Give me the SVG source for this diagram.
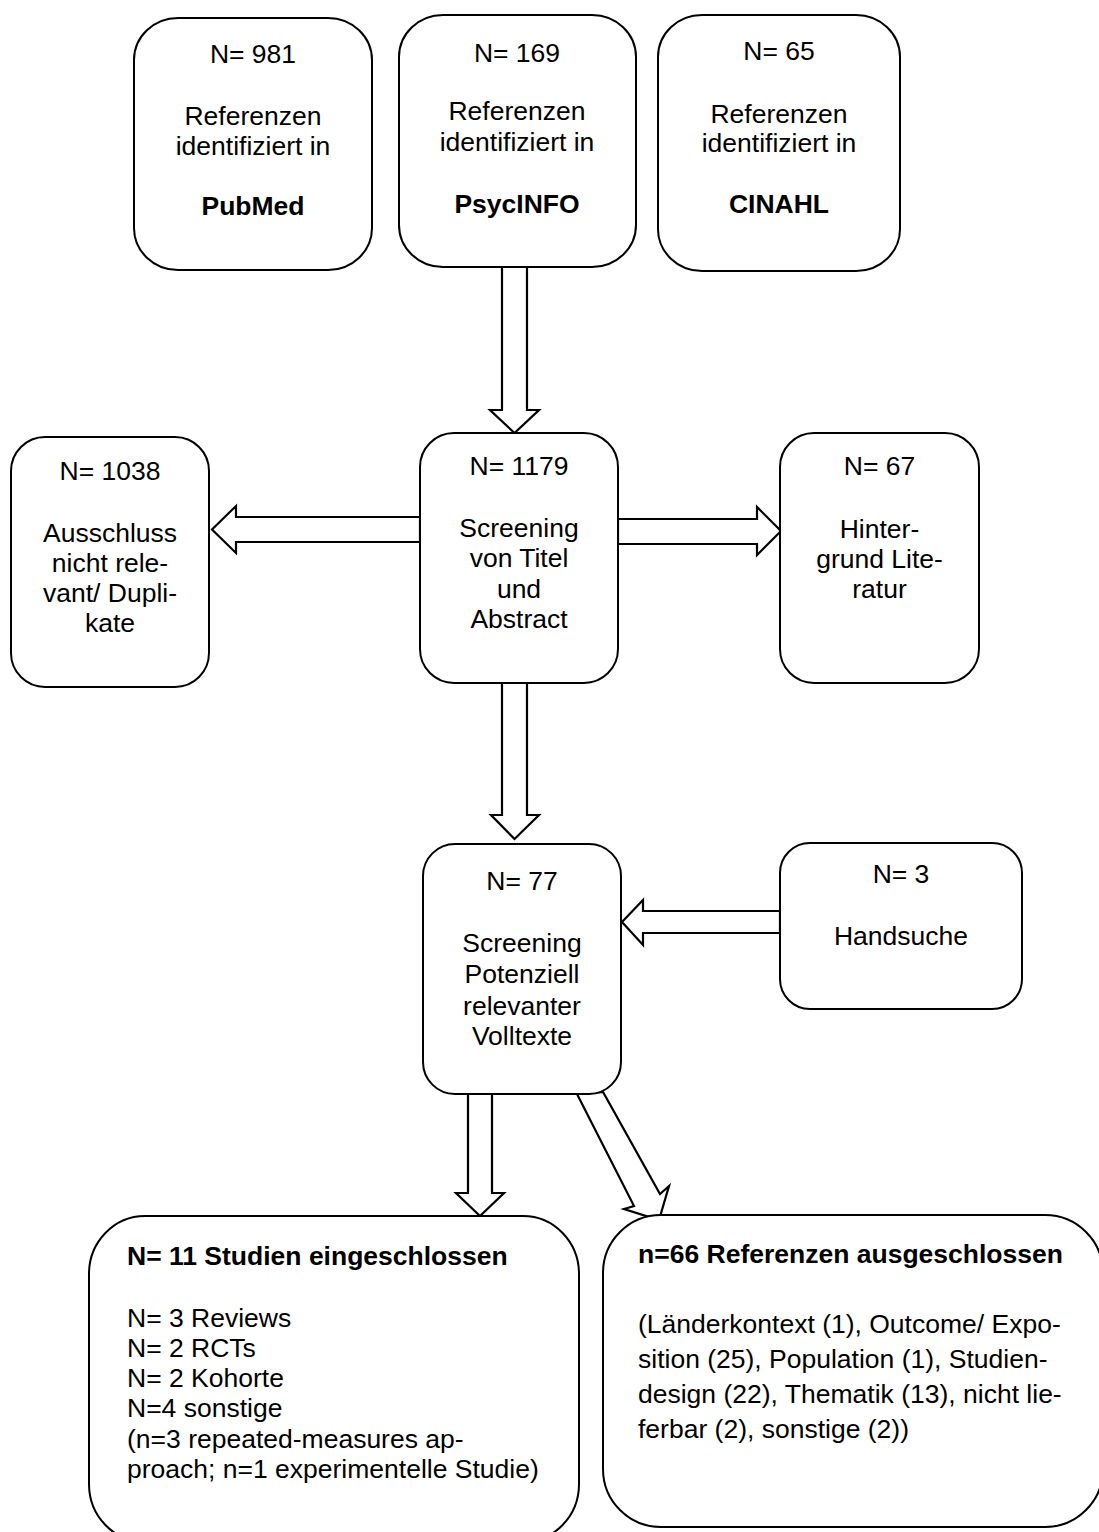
<svg xmlns="http://www.w3.org/2000/svg" width="1099" height="1532" viewBox="0 0 1099 1532">
<style>
.box{fill:#fff;stroke:#000;stroke-width:2}
.arr{fill:#fff;stroke:#000;stroke-width:2.2;stroke-linejoin:miter}
text{font-family:"Liberation Sans",Arial,sans-serif;font-size:26.5px;fill:#000}
.c{text-anchor:middle}
.b{font-weight:bold}
</style>
<rect width="1099" height="1532" fill="#fff"/>
<g id="connectors">
<polygon class="arr" points="502,267 502,410 490,410 514.5,433 539,410 527,410 527,267"/>
<polygon class="arr" points="420,517 236,517 236,506 212,529.5 236,553 236,542 420,542"/>
<polygon class="arr" points="618,519 757,519 757,507 781,531 757,555 757,544 618,544"/>
<polygon class="arr" points="502,683 502,815 491,815 514.5,839 539,815 527,815 527,683"/>
<polygon class="arr" points="780,911 643,911 643,900 622,922 643,945 643,933 780,933"/>
<polygon class="arr" points="468,1094 468,1193 456,1193 480,1216 504,1193 492,1193 492,1094"/>
<polygon class="arr" points="577,1094 634,1206 624,1209 659,1220 669,1186 660,1194 603,1092"/>
</g>
<g id="pubmed">
<rect class="box" x="134" y="18" width="238" height="252" rx="44" ry="42"/>
<text class="c" x="253" y="63">N= 981</text>
<text class="c" x="253" y="125">Referenzen</text>
<text class="c" x="253" y="155">identifiziert in</text>
<text class="c b" x="253" y="215">PubMed</text>
</g>
<g id="psycinfo">
<rect class="box" x="399" y="15" width="237" height="252" rx="44" ry="42"/>
<text class="c" x="517" y="62">N= 169</text>
<text class="c" x="517" y="120">Referenzen</text>
<text class="c" x="517" y="151">identifiziert in</text>
<text class="c b" x="517" y="213">PsycINFO</text>
</g>
<g id="cinahl">
<rect class="box" x="658" y="15" width="242" height="256" rx="44" ry="42"/>
<text class="c" x="779" y="60">N= 65</text>
<text class="c" x="779" y="123">Referenzen</text>
<text class="c" x="779" y="152">identifiziert in</text>
<text class="c b" x="779" y="213">CINAHL</text>
</g>
<g id="ausschluss">
<rect class="box" x="11" y="437" width="198" height="250" rx="34" ry="34"/>
<text class="c" x="110" y="480">N= 1038</text>
<text class="c" x="110" y="542">Ausschluss</text>
<text class="c" x="110" y="572">nicht rele-</text>
<text class="c" x="110" y="602">vant/ Dupli-</text>
<text class="c" x="110" y="632">kate</text>
</g>
<g id="screening1">
<rect class="box" x="420" y="433" width="198" height="250" rx="34" ry="34"/>
<text class="c" x="519" y="475">N= 1179</text>
<text class="c" x="519" y="537">Screening</text>
<text class="c" x="519" y="567">von Titel</text>
<text class="c" x="519" y="598">und</text>
<text class="c" x="519" y="628">Abstract</text>
</g>
<g id="hintergrund">
<rect class="box" x="780" y="433" width="199" height="250" rx="34" ry="34"/>
<text class="c" x="879.5" y="475">N= 67</text>
<text class="c" x="879.5" y="538">Hinter-</text>
<text class="c" x="879.5" y="568">grund Lite-</text>
<text class="c" x="879.5" y="598">ratur</text>
</g>
<g id="screening2">
<rect class="box" x="423" y="844" width="198" height="250" rx="32" ry="32"/>
<text class="c" x="522" y="890">N= 77</text>
<text class="c" x="522" y="952">Screening</text>
<text class="c" x="522" y="983">Potenziell</text>
<text class="c" x="522" y="1015">relevanter</text>
<text class="c" x="522" y="1045">Volltexte</text>
</g>
<g id="handsuche">
<rect class="box" x="780" y="843" width="242" height="166" rx="30" ry="30"/>
<text class="c" x="901" y="883">N= 3</text>
<text class="c" x="901" y="945">Handsuche</text>
</g>
<g id="eingeschlossen">
<rect class="box" x="89" y="1216" width="490" height="326" rx="56" ry="58"/>
<text class="b" x="127" y="1265">N= 11 Studien eingeschlossen</text>
<text x="127" y="1327">N= 3 Reviews</text>
<text x="127" y="1357">N= 2 RCTs</text>
<text x="127" y="1387">N= 2 Kohorte</text>
<text x="127" y="1417">N=4 sonstige</text>
<text x="127" y="1448">(n=3 repeated-measures ap-</text>
<text x="127" y="1478">proach; n=1 experimentelle Studie)</text>
</g>
<g id="ausgeschlossen">
<rect class="box" x="603" y="1215" width="500" height="312" rx="58" ry="58"/>
<text class="b" x="638" y="1263">n=66 Referenzen ausgeschlossen</text>
<text x="638" y="1333">(Länderkontext (1), Outcome/ Expo-</text>
<text x="638" y="1368">sition (25), Population (1), Studien-</text>
<text x="638" y="1403">design (22), Thematik (13), nicht lie-</text>
<text x="638" y="1438">ferbar (2), sonstige (2))</text>
</g>
</svg>
